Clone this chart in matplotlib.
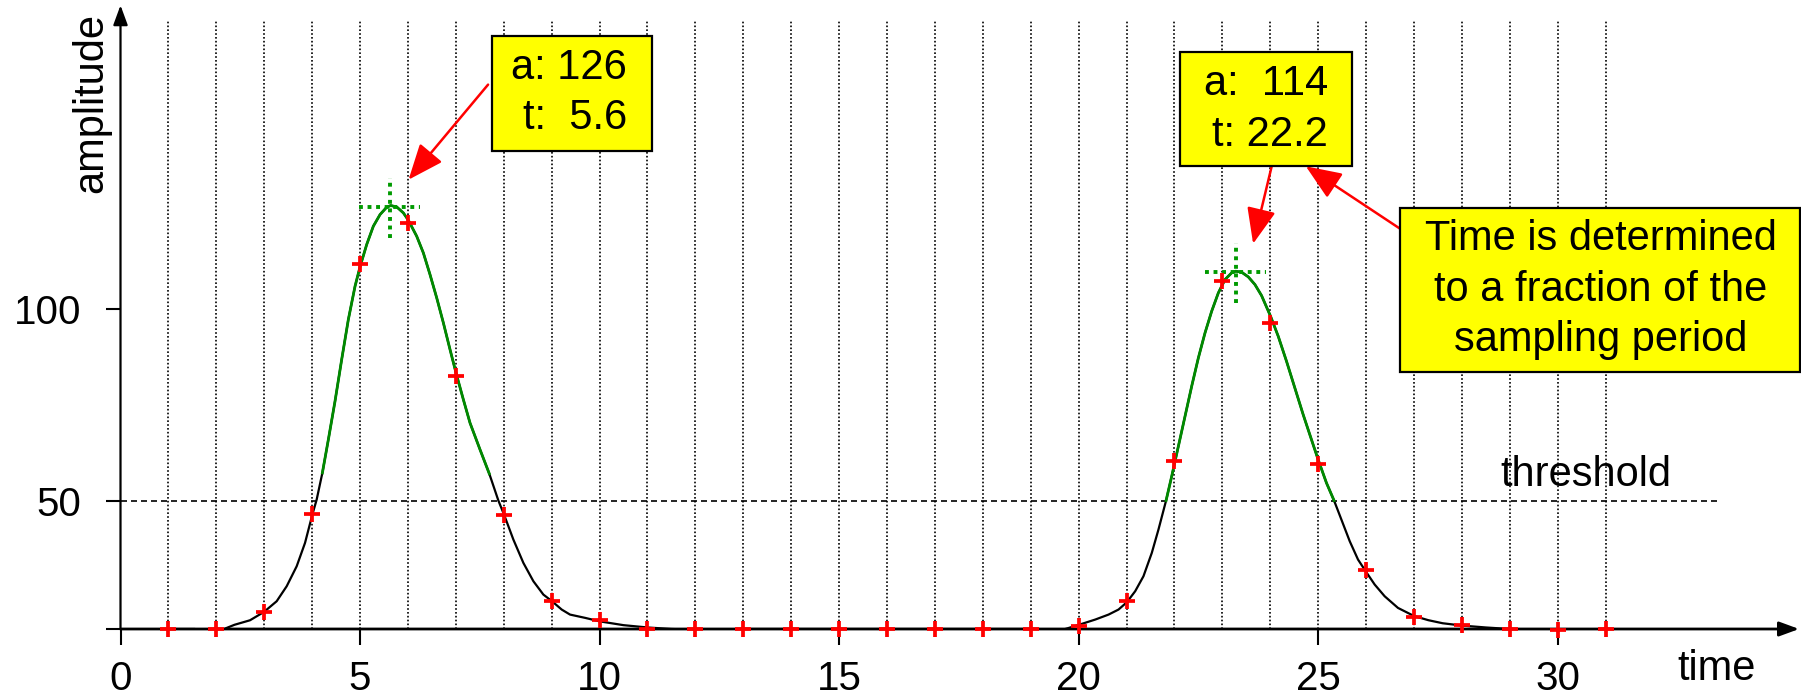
import matplotlib
matplotlib.use('Agg')
import matplotlib.pyplot as plt
from matplotlib.patches import Rectangle
import numpy as np

plt.rcParams['font.family'] = ['Liberation Sans', 'DejaVu Sans']

# sampled amplitudes (red crosses), one per time step
sample_t = list(range(1, 32))
sample_a = [16.5, 16.5, 20.9, 46.5, 111.7, 122.4, 82.6, 46.3, 23.9, 18.9,
            16.5, 16.5, 16.5, 16.5, 16.5, 16.5, 16.5, 16.5, 16.5, 17.4,
            23.7, 60.3, 107.4, 96.3, 59.6, 32.0, 19.7, 17.5, 16.6, 16.2, 16.6]

# fitted pulse shape
curve_t = [1.0, 1.55, 1.85, 2.05, 2.2, 2.38, 2.704, 2.996, 3.26, 3.469, 3.678, 3.852,
           4.005, 4.095, 4.214, 4.339, 4.478, 4.617, 4.756, 4.896, 5.0, 5.139, 5.278,
           5.418, 5.557, 5.64, 5.765, 5.905, 6.009, 6.183, 6.322, 6.461, 6.601, 6.74,
           6.879, 7.004, 7.157, 7.296, 7.505, 7.7, 7.888, 8.006, 8.201, 8.41, 8.619,
           8.827, 9.008, 9.21, 9.384, 9.7, 10.0, 10.5, 11.0, 11.5, 12.0, 13.0,
           19.0, 19.167, 19.444, 19.722, 20.0, 20.347, 20.625, 20.833, 21.007, 21.181,
           21.354, 21.528, 21.667, 21.826, 21.944, 22.083, 22.222, 22.361, 22.5,
           22.639, 22.778, 22.917, 23.056, 23.194, 23.278, 23.403, 23.542, 23.681,
           23.819, 24.007, 24.167, 24.34, 24.514, 24.688, 24.861, 25.0, 25.174,
           25.333, 25.486, 25.66, 25.833, 26.007, 26.181, 26.389, 26.667, 27.0, 27.3,
           27.6, 28.0, 28.5, 29.0, 29.5, 30.0, 30.5, 31.0]
curve_a = [16.5, 16.5, 15.4, 15.8, 16.7, 17.6, 18.78, 20.96, 23.74, 27.65, 32.87, 38.96,
           46.35, 50.26, 57.22, 65.91, 75.91, 86.78, 97.22, 105.91, 110.96, 116.78, 121.57,
           124.61, 126.52, 126.96, 126.61, 125.04, 123.13, 118.96, 114.61, 108.96, 102.87,
           96.35, 89.39, 83.3, 76.35, 70.26, 63.3, 56.96, 50.0, 46.35, 39.83, 33.74, 28.96,
           25.48, 23.74, 21.57, 20.26, 19.4, 18.5, 17.5, 16.9, 16.5, 16.3, 16.5,
           16.5, 16.5, 16.0, 16.5, 17.57, 18.96, 20.26, 21.57, 23.48, 26.35,
           30.26, 36.35, 42.43, 50.0, 56.35, 64.17, 72.0, 79.83, 87.22,
           93.74, 99.39, 104.17, 107.65, 109.39, 109.83, 109.57, 108.35, 106.35,
           103.48, 98.09, 92.87, 86.35, 79.39, 72.43, 65.91, 60.7, 54.61,
           50.0, 45.04, 39.39, 34.61, 31.3, 28.09, 25.04, 22.0, 19.9, 18.8,
           18.0, 17.4, 16.9, 16.5, 16.2, 16.2, 16.4, 16.5]

# parts of the fit shown in green
green_spans = [(4.214, 7.7), (21.826, 25.333)]

# peak estimates: (t, amplitude) of the green crosshairs
peak_t = [5.63, 23.28]
peak_a = [126.6, 109.7]

threshold = 50
baseline = 16.5

fig = plt.figure(figsize=(18.01, 6.97), dpi=100)
ax = fig.add_axes([120.5 / 1801, 68 / 697, 1680.5 / 1801, 624.5 / 697])
ax.set_xlim(0, 35.08)
ax.set_ylim(baseline, 179.4)
for s in ax.spines.values():
    s.set_visible(False)

# vertical sampling grid
ax.vlines(sample_t, baseline, 175.3, colors='black', linewidth=1.2,
          linestyles=(0, (1, 1.3)), zorder=1)

# threshold
ax.hlines(threshold, 0, 33.38, colors='black', linewidth=1.2,
          linestyles=(0, (3.6, 2.4)), zorder=2)
ax.text(28.81, 53.7, 'threshold', fontsize=30, ha='left', va='baseline')

# fitted curve
ct = np.array(curve_t)
ca = np.array(curve_a)
ax.plot(ct, ca, color='black', linewidth=1.6, zorder=3)
for t0, t1 in green_spans:
    m = (ct >= t0) & (ct <= t1)
    ax.plot(ct[m], ca[m], color='#008a00', linewidth=2.0, zorder=4)

# crosshairs at the fitted peaks
for pt, pa in zip(peak_t, peak_a):
    ax.plot([pt - 0.65, pt + 0.63], [pa, pa], color='#009a00', linewidth=2.8,
            linestyle=(0, (1, 1.2)), zorder=5)
    ax.plot([pt, pt], [pa - 8.1, pa + 7.6], color='#009a00', linewidth=2.8,
            linestyle=(0, (1, 1.2)), zorder=5)

# samples
ax.plot(sample_t, sample_a, linestyle='none', marker='+', markersize=11.5,
        markeredgewidth=2.7, color='#ff0000', zorder=8, clip_on=False)

# axes with arrow heads
ax.annotate('', xy=(35.04, baseline), xytext=(0, baseline),
            arrowprops=dict(arrowstyle='-|>,head_length=0.6,head_width=0.22',
                            mutation_scale=20, color='black', lw=2.0,
                            shrinkA=0, shrinkB=0),
            annotation_clip=False, zorder=6)
ax.annotate('', xy=(0, 179.2), xytext=(0, baseline),
            arrowprops=dict(arrowstyle='-|>,head_length=0.6,head_width=0.22',
                            mutation_scale=20, color='black', lw=1.6,
                            shrinkA=0, shrinkB=0),
            annotation_clip=False, zorder=6)

ax.set_xticks([0, 5, 10, 15, 20, 25, 30])
ax.set_yticks([baseline, 50, 100])
ax.set_yticklabels(['', '50', '100'])
ax.tick_params(axis='x', direction='out', length=11.3, width=1.5, pad=11,
               labelsize=29)
ax.tick_params(axis='y', direction='out', length=10.8, width=1.5, pad=17.6,
               labelsize=29)

fig.text(91 / 1801, 1 - 103 / 697, 'amplitude', rotation=90, fontsize=30,
         ha='center', va='center')
ax.text(32.49, 3.3, 'time', fontsize=30, ha='left', va='baseline')

# annotation boxes
box_kw = dict(facecolor='#ffff00', edgecolor='black', linewidth=1.6,
              zorder=10, clip_on=False)
ax.add_patch(Rectangle((7.751, 141.3), 11.09 - 7.751, 171.1 - 141.3, **box_kw))
ax.text(10.568, 160.0, 'a: 126', fontsize=30, ha='right', va='baseline', zorder=11)
ax.text(10.568, 146.8, 't:  5.6', fontsize=30, ha='right', va='baseline', zorder=11)

ax.add_patch(Rectangle((22.125, 137.2), 25.714 - 22.125, 166.9 - 137.2, **box_kw))
ax.text(25.21, 155.9, 'a:  114', fontsize=30, ha='right', va='baseline', zorder=11)
ax.text(25.21, 142.4, 't: 22.2', fontsize=30, ha='right', va='baseline', zorder=11)

ax.add_patch(Rectangle((26.712, 83.5), 35.06 - 26.712, 126.3 - 83.5, **box_kw))
for txt, yb in [('Time is determined', 115.3), ('to a fraction of the', 102.0),
                ('sampling period', 88.9)]:
    ax.text(30.898, yb, txt, fontsize=30, ha='center', va='baseline', zorder=11)

arrow_kw = dict(arrowstyle='-|>,head_length=1.1,head_width=0.45',
                mutation_scale=20, color='#ff0000', lw=1.8, shrinkA=0, shrinkB=0)
ax.annotate('', xy=(6.013, 133.7), xytext=(7.673, 158.5),
            arrowprops=arrow_kw, annotation_clip=False, zorder=9)
ax.annotate('', xy=(23.643, 117.0), xytext=(24.031, 137.2),
            arrowprops=arrow_kw, annotation_clip=False, zorder=9)
ax.annotate('', xy=(24.743, 137.2), xytext=(26.712, 120.9),
            arrowprops=arrow_kw, annotation_clip=False, zorder=9)

fig.savefig('out.png', dpi=100, facecolor='white')
